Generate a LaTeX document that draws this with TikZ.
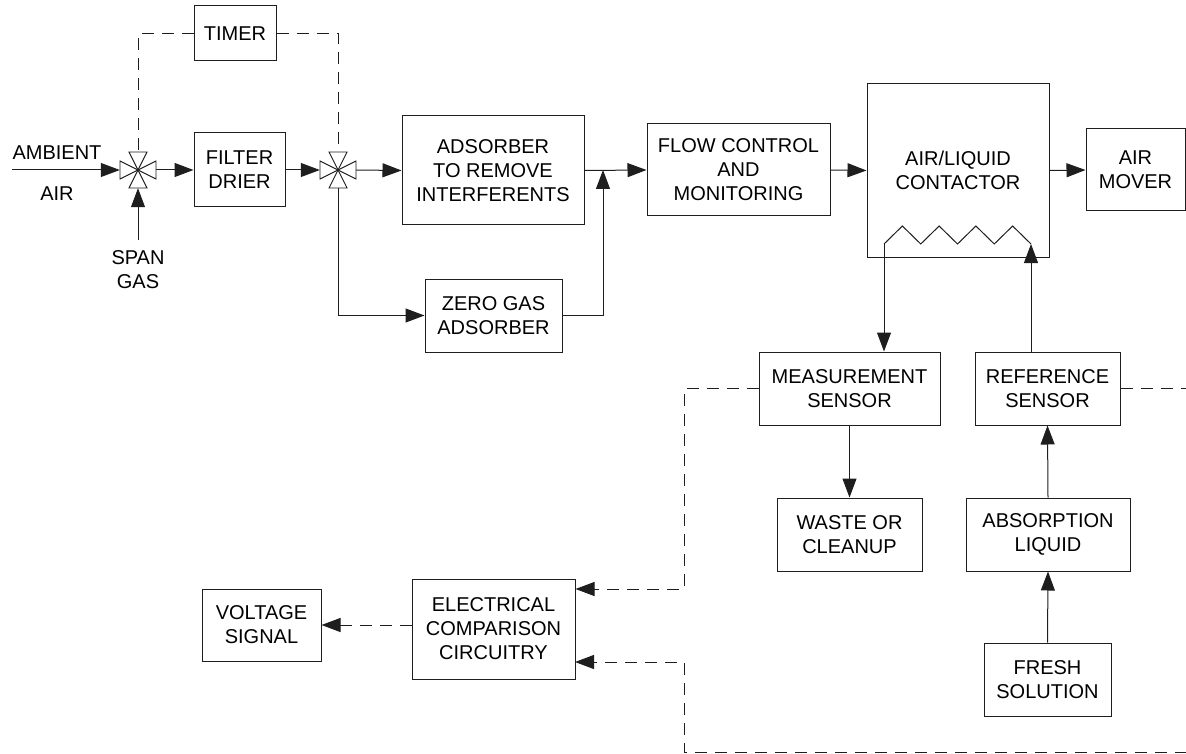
\documentclass[tikz,border=0pt]{standalone}
\usepackage{fontspec}
\setmainfont{Liberation Sans}
\usetikzlibrary{arrows.meta}
\definecolor{lineink}{RGB}{30, 30, 30}
\tikzset{
  blk/.style       = {rectangle, draw=lineink, line width=1pt, align=center, inner sep=0pt, font=\fontsize{20}{24}\selectfont},
  lbl/.style       = {align=center, inner sep=0pt, font=\fontsize{20}{24}\selectfont},
  valve/.style     = {rectangle, minimum size=36pt, inner sep=0pt},
  valveline/.style = {draw=lineink, line width=0.9pt, fill=white},
  pipe/.style      = {draw=lineink, line width=1pt},
  flowline/.style  = {-{Triangle[length=19pt, width=14pt]}, line width=1pt, lineink},
  ctrlline/.style  = {line width=1pt, lineink, dash pattern=on 12pt off 8pt},
  ctrlarrow/.style = {ctrlline, -{Triangle[length=19pt, width=14pt]}},
}

\begin{document}
\begin{tikzpicture}[x=1pt, y=-1pt]
  % same frame as the 1186 x 754 drawing
  \useasboundingbox (0,0) rectangle (1186,754);

  % gas path boxes
  \node[blk, minimum width=82pt,  minimum height=55pt]  (timer)  at (235,33.5)    {TIMER};
  \node[blk, minimum width=91pt,  minimum height=74pt]  (filt)   at (239.5,170)   {FILTER\\DRIER};
  \node[blk, minimum width=182pt, minimum height=109pt] (ads)    at (493,170.5)   {ADSORBER\\TO REMOVE\\INTERFERENTS};
  \node[blk, minimum width=137pt, minimum height=73pt]  (zero)   at (493.5,315.5) {ZERO GAS\\ADSORBER};
  \node[blk, minimum width=183pt, minimum height=92pt]  (flowc)  at (738.5,170)   {FLOW CONTROL\\AND\\MONITORING};
  \node[blk, minimum width=182pt, minimum height=173pt] (cont)   at (958,170.5)   {AIR/LIQUID\\CONTACTOR};
  \node[blk, minimum width=99pt,  minimum height=82pt]  (mover)  at (1135.5,170)  {AIR\\MOVER};

  % liquid side boxes
  \node[blk, minimum width=181pt, minimum height=73pt]  (meas)   at (849.5,388.5) {MEASUREMENT\\SENSOR};
  \node[blk, minimum width=145pt, minimum height=73pt]  (ref)    at (1047.5,388.5){REFERENCE\\SENSOR};
  \node[blk, minimum width=145pt, minimum height=73pt]  (waste)  at (849.5,534.5) {WASTE OR\\CLEANUP};
  \node[blk, minimum width=164pt, minimum height=73pt]  (absorb) at (1048,534.5)  {ABSORPTION\\LIQUID};
  \node[blk, minimum width=127pt, minimum height=73pt]  (fresh)  at (1047.5,679.5){FRESH\\SOLUTION};

  % signal side boxes
  \node[blk, minimum width=119pt, minimum height=72pt]  (volt)   at (261.5,625)   {VOLTAGE\\SIGNAL};
  \node[blk, minimum width=163pt, minimum height=100pt] (elec)   at (493.5,629)   {ELECTRICAL\\COMPARISON\\CIRCUITRY};

  % inlets and valves
  \node[valve] (v1) at (138,170) {};
  \node[valve] (v2) at (338,170) {};
  \node[lbl] (lblamb)  at (57,153)  {AMBIENT};
  \node[lbl] (lblair)  at (57,194)  {AIR};
  \node[lbl] (lblspan) at (138,270) {SPAN\\GAS};
  \coordinate (amb)  at (12,170);
  \coordinate (span) at (138,240);
  \coordinate (jn)   at (603,170);

  % main gas flow
  \draw[flowline] (amb) -- (v1.west);
  \draw[flowline] (span) -- (v1.south);
  \draw[flowline] (v1.east) -- (filt.west);
  \draw[flowline] (filt.east) -- (v2.west);
  \draw[flowline] (v2.east) -- (ads.west);
  \draw[flowline] (v2.south) |- (zero.west);
  \draw[flowline] (zero.east) -| (jn);
  \draw[flowline] (ads.east) -- (flowc.west);
  \draw[flowline] (flowc.east) -- (cont.west);
  \draw[flowline] (cont.east) -- (mover.west);

  % timer switching the valves
  \draw[ctrlline] (timer.west) -| (v1.north);
  \draw[ctrlline] (timer.east) -| (v2.north);

  \foreach \v in {v1,v2}{
    \draw[valveline] (\v.center) -- ++(-18,-9) -- ++(0,18) -- cycle;
    \draw[valveline] (\v.center) -- ++(18,-9) -- ++(0,18) -- cycle;
    \draw[valveline] (\v.center) -- ++(-9,-18) -- ++(18,0) -- cycle;
    \draw[valveline] (\v.center) -- ++(-9,18) -- ++(18,0) -- cycle;
  }

  % liquid coil in the contactor
  \coordinate (zl) at (884,244);
  \coordinate (zr) at (1031,244);
  \draw[pipe] (zl) \foreach \i in {1,...,4}{ -- ++(18.375,-18) -- ++(18.375,18) };

  % liquid flow
  \draw[flowline] (zl) -- (zl |- meas.north);
  \draw[flowline] (ref.north -| zr) -- (zr);
  \draw[flowline] (meas.south) -- (waste.north);
  \draw[flowline] (absorb.north) -- (ref.south);
  \draw[flowline] (fresh.north) -- (absorb.south);

  % sensor signals
  \coordinate (mbend) at (684,589);
  \coordinate (rcorner) at (1192,752);
  \coordinate (lcorner) at (684,752);
  \coordinate (ein2) at (575,662);
  \draw[ctrlarrow] (meas.west) -| (mbend) -- (elec.east |- mbend);
  \draw[ctrlarrow] (ref.east) -| (rcorner) -- (lcorner) |- (ein2);
  \draw[ctrlarrow] (elec.west |- volt.east) -- (volt.east);

\end{tikzpicture}
\end{document}
